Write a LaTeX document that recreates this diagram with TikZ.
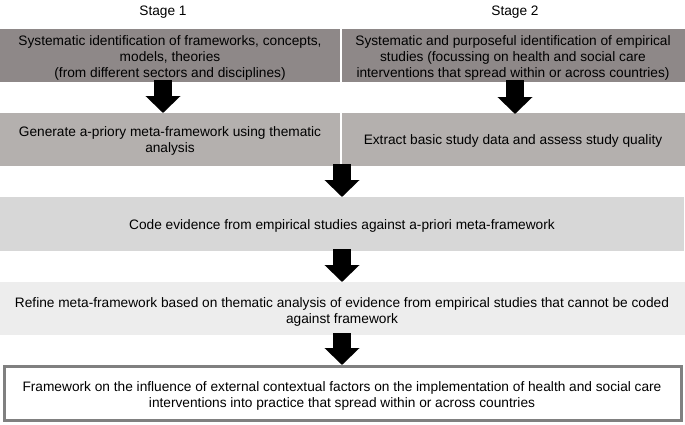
\documentclass[tikz,border=0pt]{standalone}
\usepackage{fontspec}
\setmainfont{Liberation Sans}
\usetikzlibrary{arrows.meta}
\definecolor{rowA}{HTML}{8E8888}
\definecolor{rowB}{HTML}{B4B0AE}
\definecolor{rowC}{HTML}{D7D7D7}
\definecolor{rowD}{HTML}{EDEDED}
\definecolor{frameline}{HTML}{808080}
\tikzset{
  box/.style={inner sep=0pt, outer sep=0pt, align=center, font=\fontsize{13.7}{16}\selectfont},
  stagelabel/.style={inner sep=0pt, font=\fontsize{13.7}{16}\selectfont},
  blockarrow/.style={line width=18pt, -{Triangle[length=17pt 0,width=34pt 0]}},
}
\begin{document}
\begin{tikzpicture}[x=1pt,y=-1pt]
\useasboundingbox (0,0) rectangle (685,424);
% stage labels
\node[stagelabel] (s1) at (163,12) {Stage 1};
\node[stagelabel] (s2) at (515,12) {Stage 2};
% row 1
\path[fill=rowA] (0,29) rectangle (340,82);
\path[fill=rowA] (342,29) rectangle (685,82);
\node[box] (a1) at (170,57.5) {Systematic identification of frameworks, concepts,\\models, theories\\(from different sectors and disciplines)};
\node[box] (a2) at (513,57.5) {Systematic and purposeful identification of empirical\\studies (focussing on health and social care\\interventions that spread within or across countries)};
\coordinate (a1b) at (163,82);
\coordinate (a2b) at (515,82);
% row 2
\path[fill=rowB] (0,113) rectangle (340,166);
\path[fill=rowB] (342,113) rectangle (685,166);
\node[box] (b1) at (170,140.5) {Generate a-priory meta-framework using thematic\\analysis};
\node[box] (b2) at (513,141) {Extract basic study data and assess study quality};
\coordinate (b1t) at (163,113);
\coordinate (b2t) at (515,113);
\coordinate (bb) at (342,166);
% row 3
\path[fill=rowC] (0,197) rectangle (684,251);
\node[box] (c) at (342,225.5) {Code evidence from empirical studies against a-priori meta-framework};
\coordinate (ct) at (342,197);
\coordinate (cb) at (342,251);
% row 4
\path[fill=rowD] (0,282) rectangle (685,335);
\node[box] (d) at (342,311.5) {Refine meta-framework based on thematic analysis of evidence from empirical studies that cannot be coded\\against framework};
\coordinate (dt) at (342,282);
\coordinate (db) at (342,335);
% row 5
\draw[frameline, line width=3pt, fill=white] (4.5,366.5) rectangle (681.5,420.5);
\node[box] (e) at (342,395.5) {Framework on the influence of external contextual factors on the implementation of health and social care\\interventions into practice that spread within or across countries};
\coordinate (et) at (342,365);
% arrows
\draw[blockarrow] ([yshift=2]a1b) -- ([yshift=0]b1t);
\draw[blockarrow] ([yshift=2]a2b) -- ([yshift=-1]b2t);
\draw[blockarrow] ([yshift=2]bb) -- ([yshift=0]ct);
\draw[blockarrow] ([yshift=2]cb) -- ([yshift=0]dt);
\draw[blockarrow] ([yshift=2]db) -- ([yshift=0]et);
\end{tikzpicture}
\end{document}
